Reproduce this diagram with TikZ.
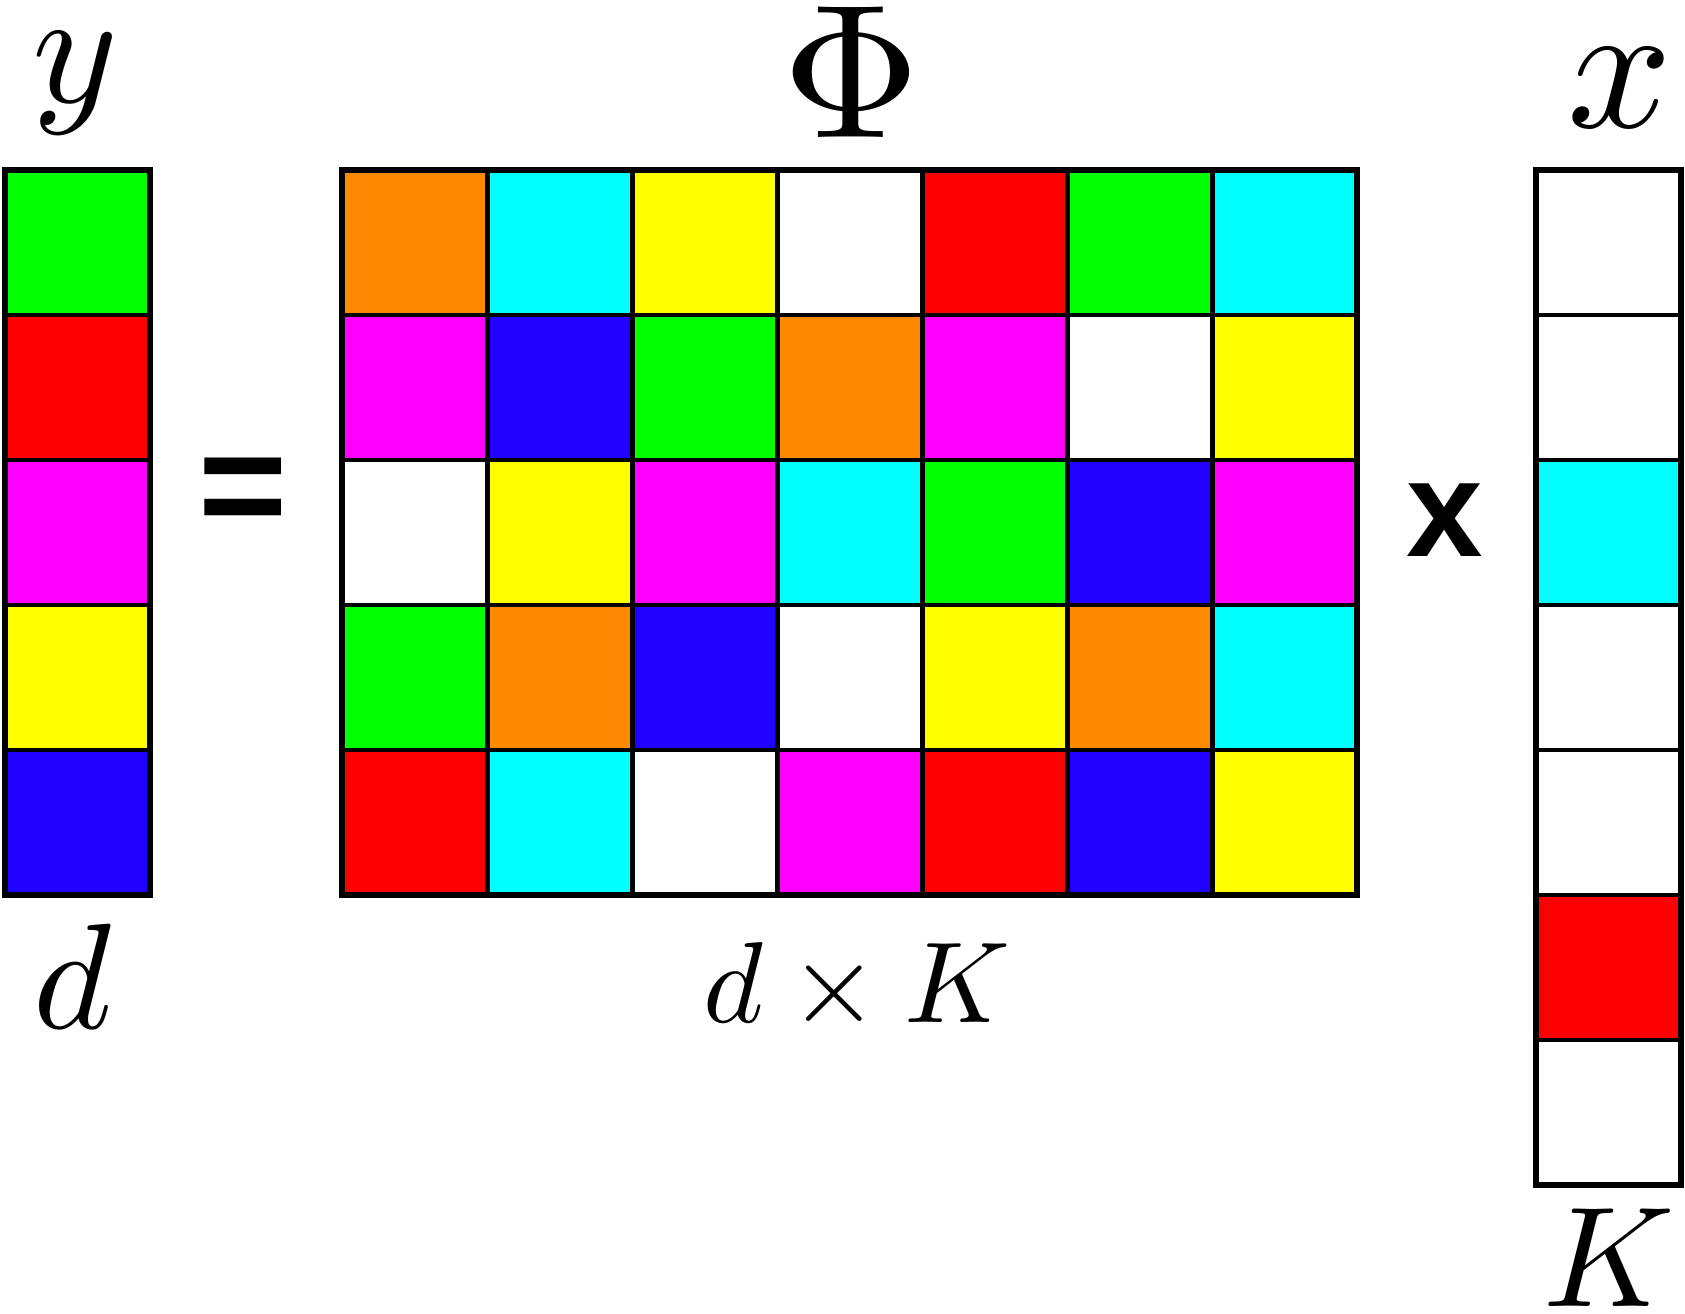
\documentclass[tikz,border=0pt]{standalone}
\usepackage{fontspec}
\newfontfamily\opsans{Liberation Sans}
\usetikzlibrary{positioning}

\definecolor{mxorange}{RGB}{255,137,0}
\definecolor{mxcyan}{RGB}{0,255,255}
\definecolor{mxyellow}{RGB}{255,255,0}
\definecolor{mxred}{RGB}{255,0,0}
\definecolor{mxgreen}{RGB}{0,255,0}
\definecolor{mxmagenta}{RGB}{255,0,255}
\definecolor{mxblue}{RGB}{34,0,255}
\definecolor{mxwhite}{RGB}{255,255,255}

\begin{document}
\begin{tikzpicture}[
cell/.style={rectangle, draw, line width=0.9pt, minimum size=1cm, inner sep=0pt, outer sep=0pt},
outline/.style={draw, line width=1.2pt},
sym/.style={anchor=base, inner sep=0pt, font=\normalsize},
op/.style={inner sep=0pt}
]
\useasboundingbox (0,0) rectangle (11.62,9.055);

% y vector
\foreach \clr [count=\r] in {mxgreen,mxred,mxmagenta,mxyellow,mxblue}
  \node[cell, fill=\clr] (y-\r) at (0.534,8.383-\r) {};

% Phi matrix
\foreach \row [count=\r] in {
  {mxorange,mxcyan,mxyellow,mxwhite,mxred,mxgreen,mxcyan},
  {mxmagenta,mxblue,mxgreen,mxorange,mxmagenta,mxwhite,mxyellow},
  {mxwhite,mxyellow,mxmagenta,mxcyan,mxgreen,mxblue,mxmagenta},
  {mxgreen,mxorange,mxblue,mxwhite,mxyellow,mxorange,mxcyan},
  {mxred,mxcyan,mxwhite,mxmagenta,mxred,mxblue,mxyellow}}
  \foreach \clr [count=\c] in \row
    \node[cell, fill=\clr] (phi-\r-\c) at (1.86+\c,8.383-\r) {};

% x vector
\foreach \clr [count=\r] in {mxwhite,mxwhite,mxcyan,mxwhite,mxwhite,mxred,mxwhite}
  \node[cell, fill=\clr] (x-\r) at (11.09,8.383-\r) {};

\draw[outline] (y-1.north west) rectangle (y-5.south east);
\draw[outline] (phi-1-1.north west) rectangle (phi-5-7.south east);
\draw[outline] (x-1.north west) rectangle (x-7.south east);

% labels
\node[sym, scale=3.2] (ylab) at (0.52,8.345) {$y$};
\node[sym, scale=3.75] (philab) at (5.87,8.11) {$\Phi$};
\node[sym, scale=3.6] (xlab) at (11.17,8.175) {$x$};
\node[sym, scale=2.95] (dlab) at (0.50,1.965) {$d$};
\node[sym, scale=2.26] (dimlab) at (5.91,2.005) {$d\times K$};
\node[sym, scale=2.8] (klab) at (11.10,0.045) {$K$};

% operators
\node[op, font=\opsans\bfseries\fontsize{30}{36}\selectfont] (eq) at (1.68,5.625) {=};
\node[op, font=\opsans\bfseries\fontsize{27}{32}\selectfont] (times) at (9.96,5.469) {x};
\end{tikzpicture}
\end{document}
